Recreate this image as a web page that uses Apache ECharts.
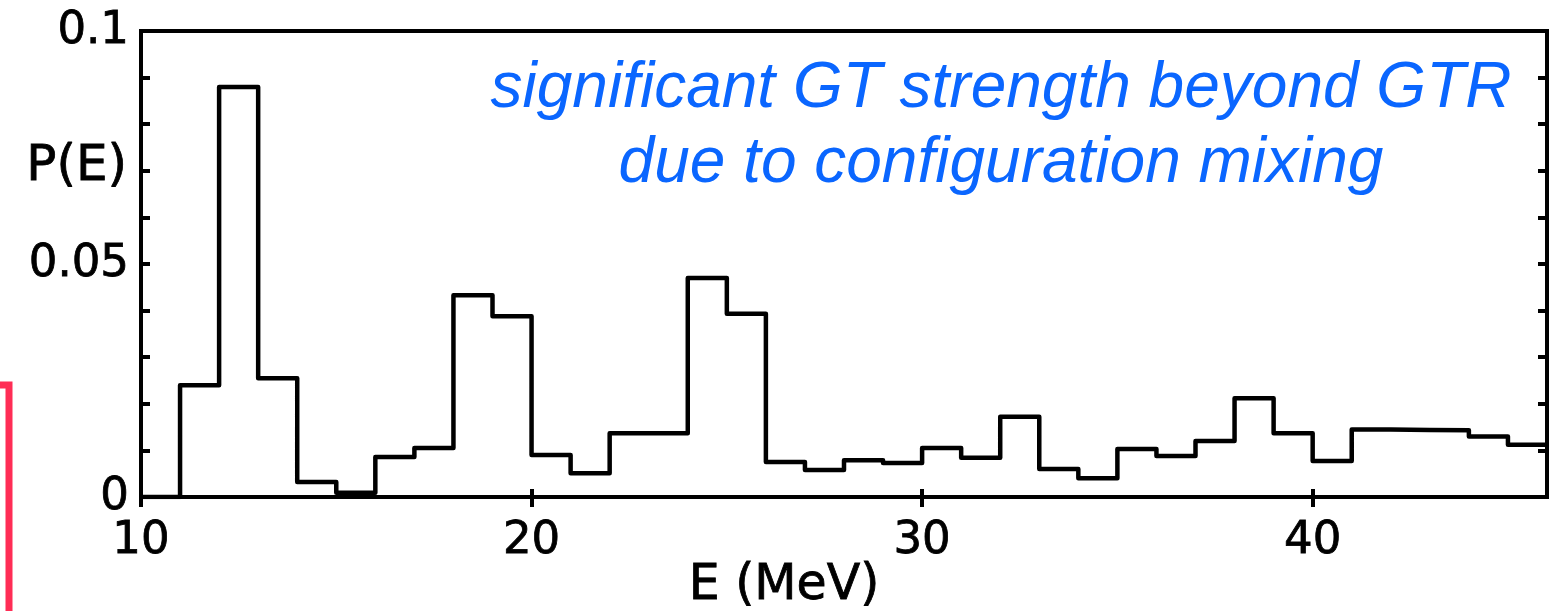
<!DOCTYPE html>
<html>
<head>
<meta charset="utf-8">
<script src="https://cdn.jsdelivr.net/npm/echarts@6/dist/echarts.min.js"></script>
<style>html,body{margin:0;padding:0;background:#fff;}#c{width:1556px;height:611px;}</style>
</head>
<body>
<div id="c"></div>
<script>
// Histogram bin left edges (MeV), 1 MeV bins from 10 to 46
const binEdges = [10,11,12,13,14,15,16,17,18,19,20,21,22,23,24,25,26,27,28,29,30,31,32,33,34,35,36,37,38,39,40,41,42,43,44,45,46];
// P(E) per bin
const binValues = [0,0.024,0.088,0.0255,0.0032,0.0009,0.0086,0.0105,0.0433,0.0388,0.009,0.0051,0.0137,0.0137,0.047,0.0393,0.0075,0.0058,0.0079,0.0073,0.0105,0.0084,0.0172,0.006,0.004,0.0103,0.0088,0.012,0.0212,0.0137,0.0077,0.0145,0.0144,0.0143,0.013,0.0112];
const xTickLabels = [10,20,30,40];
const yTickLabels = [0,0.05,0.1];
const annotationLines = ['significant GT strength beyond GTR','due to configuration mixing'];

const stepData = binValues.map((v,i)=>[binEdges[i], v]);
stepData.push([binEdges[binEdges.length-1], binValues[binValues.length-1]]);

const chart = echarts.init(document.getElementById('c'), null, {renderer:'canvas'});
const labelFont = {fontFamily:'DejaVu Sans', fontSize:45, color:'#000', textBorderColor:'#000', textBorderWidth:0.8};
chart.setOption({
  animation:false,
  backgroundColor:'#fff',
  grid:{left:141, right:9, top:31, bottom:114, show:true, borderColor:'#000', borderWidth:4},
  xAxis:[
    {type:'value', min:10, max:46, interval:10, position:'bottom',
     axisLine:{show:true, lineStyle:{color:'#000', width:4}},
     axisTick:{show:true, length:10, lineStyle:{color:'#000', width:4},
       customValues: xTickLabels},
     axisLabel:{show:true, margin:22, ...labelFont,
       customValues: xTickLabels,
       formatter:(v)=> xTickLabels.includes(Math.round(v)) ? String(Math.round(v)) : ''},
     splitLine:{show:false}},
    {type:'value', min:10, max:46, interval:10, position:'bottom',
     axisLine:{show:false},
     axisTick:{show:true, inside:true, length:8, lineStyle:{color:'#000', width:4},
       customValues: xTickLabels},
     axisLabel:{show:false}, splitLine:{show:false}}
  ],
  yAxis:[
    {type:'value', min:0, max:0.1, interval:0.01, position:'left',
     axisLine:{show:true, lineStyle:{color:'#000', width:4}},
     axisTick:{show:true, inside:true, length:9, lineStyle:{color:'#000', width:4}},
     axisLabel:{show:true, margin:12, ...labelFont,
       formatter:(v)=>{ for (const t of yTickLabels) if (Math.abs(v-t)<1e-9) return String(t); return ''; }},
     splitLine:{show:false}},
    {type:'value', min:0, max:0.1, interval:0.01, position:'right',
     axisLine:{show:true, lineStyle:{color:'#000', width:4}},
     axisTick:{show:true, inside:true, length:9, lineStyle:{color:'#000', width:4}},
     axisLabel:{show:false}, splitLine:{show:false}}
  ],
  series:[{
    type:'line', step:'end', data:stepData, xAxisIndex:0, yAxisIndex:0,
    symbol:'none', lineStyle:{color:'#000', width:4.5, join:'round'}, z:5
  }],
  graphic:[
    {type:'text', style:{text:'P(E)', x:127, y:167, align:'right', verticalAlign:'middle',
      font:'50px "DejaVu Sans"', fill:'#000', stroke:'#000', lineWidth:0.8}},
    {type:'text', style:{text:'E (MeV)', x:784, y:586, align:'center', verticalAlign:'middle',
      font:'49px "DejaVu Sans"', fill:'#000', stroke:'#000', lineWidth:0.8}},
    {type:'text', style:{text:annotationLines[0], x:1001, y:89, align:'center', verticalAlign:'middle',
      font:'italic 64px "Liberation Sans"', fill:'#0a66ff'}},
    {type:'text', style:{text:annotationLines[1], x:1001, y:164, align:'center', verticalAlign:'middle',
      font:'italic 64px "Liberation Sans"', fill:'#0a66ff'}},
    {type:'polyline', shape:{points:[[0,385],[9,385],[9,611]]},
      style:{stroke:'#ff2d55', lineWidth:7, fill:null, lineJoin:'miter'}}
  ]
});
</script>
</body>
</html>
